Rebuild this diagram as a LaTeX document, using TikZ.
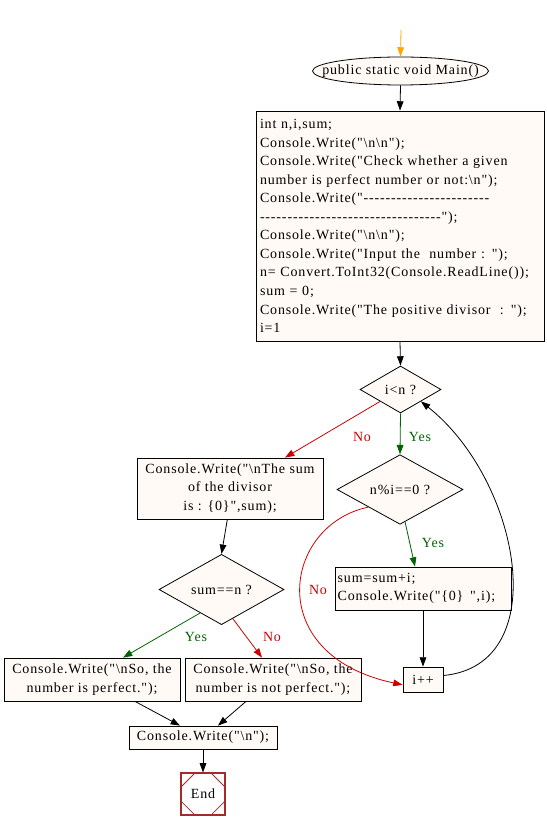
\documentclass[tikz,border=0pt]{standalone}
\usepackage{fontspec}
\setmainfont{Liberation Serif}[Ligatures=TeXOff, LetterSpace=6]
\usetikzlibrary{shapes.geometric,arrows.meta,calc}
\definecolor{boxfill}{HTML}{FFFAF5}
\definecolor{yescol}{HTML}{006400}
\definecolor{nocol}{HTML}{CD0000}
\definecolor{endcol}{HTML}{A52A2A}
\definecolor{startcol}{HTML}{FFA500}
\newcommand{\bs}{\textbackslash}
\begin{document}
\begin{tikzpicture}[x=0.75pt,y=-0.75pt,
  every node/.style={font=\fontsize{10.5}{13.9}\selectfont},
  proc/.style={draw, fill=boxfill, line width=0.6pt, inner sep=0pt},
  dec/.style={draw, fill=boxfill, diamond, line width=0.6pt, inner sep=0pt},
  arr/.style={-{Triangle[length=7pt,width=5pt]}, line width=0.6pt},
  yesarr/.style={arr, draw=yescol},
  noarr/.style={arr, draw=nocol},
  yeslab/.style={text=yescol},
  nolab/.style={text=nocol}]
\useasboundingbox (0,0) rectangle (546,830);

\coordinate (s0) at (401,30);
\node[draw, fill=boxfill, ellipse, line width=0.6pt, inner xsep=-12pt, inner ysep=0pt, minimum height=21pt] (main) at (400.5,71) {public static void Main()};

\node[proc, minimum width=216pt, minimum height=172.5pt, text width=210pt, align=left] (b1) at (400,226) {int n,i,sum;\\
Console.Write("\bs n\bs n");\\
Console.Write("Check whether a given\\
number is perfect number or not:\bs n");\\
Console.Write("-----------------------\\
---------------------------------");\\
Console.Write("\bs n\bs n");\\
Console.Write("Input the\ \ number : ");\\
n= Convert.ToInt32(Console.ReadLine());\\
sum = 0;\\
Console.Write("The positive divisor\ \ : ");\\
i=1};

\node[dec, minimum width=60.75pt, minimum height=35.25pt] (d1) at (400.5,389.5) {i<n ?};
\node[dec, minimum width=94.5pt, minimum height=35.25pt] (d2) at (400,489.5) {n\%i==0 ?};
\node[proc, minimum width=132pt, minimum height=32.25pt, text width=128pt, align=left] (bs) at (423,588.5) {sum=sum+i;\\Console.Write("\{0\}\hspace{5pt}",i);};
\node[proc, minimum width=30pt, minimum height=18.75pt] (ipp) at (423,679.5) {i++};

\node[proc, minimum width=139.5pt, minimum height=45.75pt, align=center] (b2) at (230,488.5) {Console.Write("\bs nThe sum\\of the divisor\\is : \{0\}",sum);};
\node[dec, minimum width=93.75pt, minimum height=35.25pt] (d3) at (221.5,589.5) {sum==n ?};
\node[proc, minimum width=132pt, minimum height=32.25pt, align=center] (b3) at (92,679.5) {Console.Write("\bs nSo, the\\number is perfect.");};
\node[proc, minimum width=132pt, minimum height=32.25pt, align=center] (b4) at (273,679.5) {Console.Write("\bs nSo, the\\number is not perfect.");};
\node[proc, minimum width=111pt, minimum height=17.25pt] (b5) at (203,737.5) {Console.Write("\bs n");};
\node[draw=endcol, line width=0.8pt, minimum width=33pt, minimum height=31.5pt, inner sep=0pt] (end) at (203,794) {End};
\draw[endcol, line width=0.6pt]
  ([xshift=11.25pt]end.north west) -- ([yshift=-11.25pt]end.north west)
  ([xshift=-11.25pt]end.north east) -- ([yshift=-11.25pt]end.north east)
  ([xshift=11.25pt]end.south west) -- ([yshift=11.25pt]end.south west)
  ([xshift=-11.25pt]end.south east) -- ([yshift=11.25pt]end.south east);

% edges
\draw[arr, draw=startcol] (s0) -- (main.north);
\draw[arr] (main.south) -- (b1.north);
\draw[arr] (b1.south) -- (d1.north);
\draw[yesarr] (d1.south) -- (d2.north);
\node[yeslab] (y1) at (420,437) {Yes};
\draw[noarr] (d1.south west) -- ([xshift=41.25pt]b2.north);
\node[nolab] (n1) at (362,437) {No};
\draw[yesarr] ($(d2.south)!0.08!(d2.east)$) -- ([xshift=-6pt]bs.north);
\node[yeslab] (y2) at (433,543) {Yes};
\draw[noarr] (d2.south west) .. controls (283,525) and (262,655) .. ([yshift=-4pt]ipp.west);
\node[nolab] (n2) at (318,590) {No};
\draw[arr] (bs.south) -- (ipp.north);
\draw[arr] ([yshift=3pt]ipp.east) .. controls (555,665) and (520,480) .. (d1.south east);
\draw[arr] ([xshift=-2pt]b2.south) -- (d3.north);
\draw[yesarr] ($(d3.south)!0.34!(d3.west)$) -- ([xshift=23.25pt]b3.north);
\node[yeslab] (y3) at (196,637) {Yes};
\draw[noarr] ($(d3.south)!0.18!(d3.east)$) -- ([xshift=-8.25pt]b4.north);
\node[nolab] (n3) at (272,637) {No};
\draw[arr] ([xshift=32.25pt]b3.south) -- ([xshift=-17.25pt]b5.north);
\draw[arr] ([xshift=-20.25pt]b4.south) -- ([xshift=11.25pt]b5.north);
\draw[arr] (b5.south) -- (end.north);
\end{tikzpicture}
\end{document}
